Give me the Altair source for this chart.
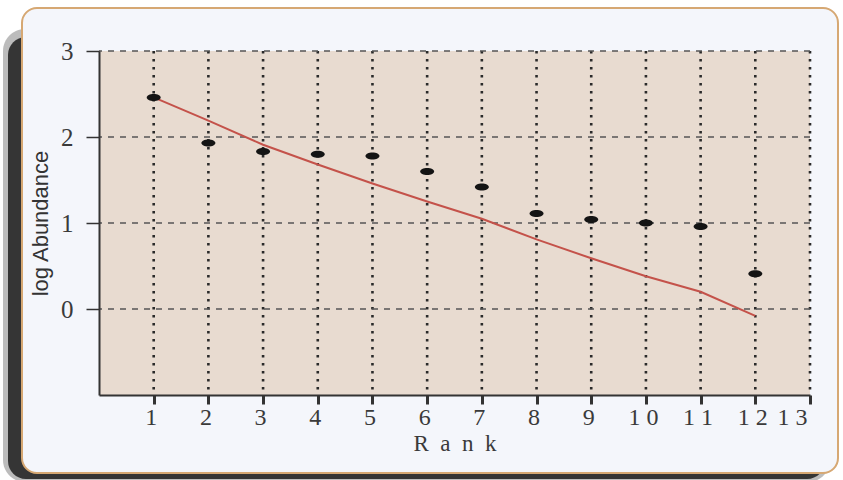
import altair as alt
import pandas as pd

ranks = [1, 2, 3, 4, 5, 6, 7, 8, 9, 10, 11, 12]
log_abundance = [2.46, 1.93, 1.83, 1.80, 1.78, 1.60, 1.42, 1.11, 1.04, 1.00, 0.96, 0.41]
fitted = [2.46, 2.19, 1.91, 1.68, 1.46, 1.25, 1.05, 0.81, 0.59, 0.38, 0.20, -0.08]
x_ticks = list(range(1, 14))
y_ticks = [0, 1, 2, 3]

W, H = 711, 344

df = pd.DataFrame({"rank": ranks, "abund": log_abundance, "fit": fitted})
one = pd.DataFrame({"k": [0]})
xg = pd.DataFrame({"x": x_ticks})
yg = pd.DataFrame({"y": y_ticks})

xscale = alt.Scale(domain=[0, 13], nice=False, zero=False)
yscale = alt.Scale(domain=[-1, 3], nice=False, zero=False)

xaxis = alt.Axis(values=x_ticks, format="d", grid=False, zindex=1,
                 domainColor="#333", domainWidth=2, tickColor="#333", tickWidth=3, tickSize=9,
                 labelFont="Liberation Serif", labelFontSize=24, labelPadding=1, labelColor="#3a3a3a",
                 labelOffset=-3,
                 labelExpr="length(datum.label) > 1 ? substring(datum.label,0,1) + ' ' + substring(datum.label,1) : datum.label",
                 title="R\u2002a\u2002n\u2002k", titleFont="Liberation Serif", titleFontSize=23,
                 titleFontWeight="normal", titleColor="#3a3a3a", titlePadding=3)
yaxis = alt.Axis(values=y_ticks, format="d", grid=False, zindex=1,
                 domainColor="#333", domainWidth=2, tickColor="#333", tickWidth=1.5, tickSize=13,
                 labelFont="Liberation Serif", labelFontSize=25, labelPadding=13, labelColor="#3a3a3a",
                 title="log Abundance", titleFont="Liberation Sans", titleFontSize=22,
                 titleFontWeight="normal", titleColor="#333", titlePadding=8)

shadow_outer = alt.Chart(one).mark_rect(color="#222", opacity=0.3, cornerRadius=22).encode(
    x=alt.value(-96), x2=alt.value(731), y=alt.value(-22), y2=alt.value(431))
shadow = alt.Chart(one).mark_rect(color="#262626", opacity=0.9, cornerRadius=18).encode(
    x=alt.value(-91), x2=alt.value(726), y=alt.value(-14), y2=alt.value(428))
card = alt.Chart(one).mark_rect(fill="#f4f6fb", stroke="#d6a873", strokeWidth=2, cornerRadius=15).encode(
    x=alt.value(-77), x2=alt.value(739), y=alt.value(-43), y2=alt.value(422))
plotbg = alt.Chart(one).mark_rect(fill="#e8dbd0").encode(
    x=alt.value(0), x2=alt.value(W), y=alt.value(0), y2=alt.value(H))

vgrid = alt.Chart(xg).mark_rule(color="#2a2a2a", strokeWidth=2.6, strokeDash=[2.6, 5.4]).encode(
    x=alt.X("x:Q", scale=xscale, axis=xaxis))
hgrid = alt.Chart(yg).mark_rule(color="#555", strokeWidth=1.6, strokeDash=[6, 6]).encode(
    y=alt.Y("y:Q", scale=yscale, axis=yaxis))

line = alt.Chart(df).mark_line(color="#c4524a", strokeWidth=2).encode(
    x=alt.X("rank:Q", scale=xscale, axis=xaxis), y=alt.Y("fit:Q", scale=yscale, axis=yaxis))
pts = alt.Chart(df).mark_point(
    shape="M-1,0 A1,0.5 0 1,1 1,0 A1,0.5 0 1,1 -1,0 Z",
    filled=True, fill="#141414", opacity=1, size=196, strokeWidth=0).encode(
    x=alt.X("rank:Q", scale=xscale, axis=xaxis), y=alt.Y("abund:Q", scale=yscale, axis=yaxis))

chart = alt.layer(shadow_outer, shadow, card, plotbg, vgrid, hgrid, line, pts).properties(
    width=W, height=H,
    autosize=alt.AutoSizeParams(type="none"),
    padding={"left": 99, "top": 51, "right": 33, "bottom": 85},
    background="white",
).configure_view(stroke=None)

chart.save("out.html", embed_options={"renderer": "svg", "actions": False})
